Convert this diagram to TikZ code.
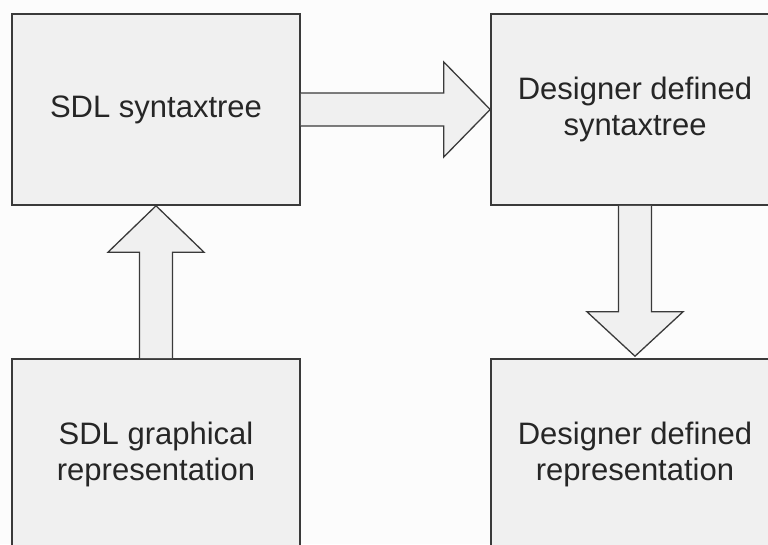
\documentclass[tikz,border=0pt]{standalone}
\usepackage{fontspec}
\setmainfont{Liberation Sans}
\usetikzlibrary{calc}
\definecolor{boxfill}{HTML}{F0F0F0}
\definecolor{edge}{HTML}{3A3A3A}
\definecolor{ink}{HTML}{262626}
\tikzset{
  block/.style={draw=edge, fill=boxfill, line width=1.6pt, rectangle,
    minimum width=288pt, minimum height=191pt, inner sep=0pt,
    align=center, text=ink, font=\fontsize{31}{36.5}\selectfont},
  fat/.style={draw=edge, fill=boxfill, line width=1.3pt, line join=miter}
}
\begin{document}
\begin{tikzpicture}[x=1pt, y=-1pt]
  \clip (0,0) rectangle (768,544);
  \fill[white!99!black] (0,0) rectangle (768,544);

  % the four blocks (the right and lower ones run past the page edge)
  \node[block] (stree) at (156,109.5) {SDL syntaxtree};
  \node[block] (dtree) at (635,109.5) {Designer defined\\syntaxtree};
  \node[block] (sgraph) at (156,454.5) {SDL graphical\\representation};
  \node[block] (drep) at (635,454.5) {Designer defined\\representation};

  % block arrow: SDL syntaxtree -> designer defined syntaxtree
  \draw[fat] ($(stree.east)+(0,-16.5)$) -- ++(143,0) -- ++(0,-31)
    -- (dtree.west) -- ($(stree.east)+(143,47.5)$) -- ++(0,-31)
    -- ($(stree.east)+(0,16.5)$);

  % block arrow: graphical representation -> SDL syntaxtree
  \draw[fat] ($(sgraph.north)+(-16.5,0)$) -- ++(0,-106) -- ++(-31.5,0)
    -- (stree.south) -- ($(sgraph.north)+(48,-106)$) -- ++(-31.5,0)
    -- ($(sgraph.north)+(16.5,0)$);

  % block arrow: designer defined syntaxtree -> designer defined representation
  \draw[fat] ($(dtree.south)+(-16.5,0)$) -- ++(0,106) -- ++(-31.5,0)
    -- ($(drep.north)+(0,-2)$) -- ($(dtree.south)+(48,106)$) -- ++(-31.5,0)
    -- ($(dtree.south)+(16.5,0)$);
\end{tikzpicture}
\end{document}
